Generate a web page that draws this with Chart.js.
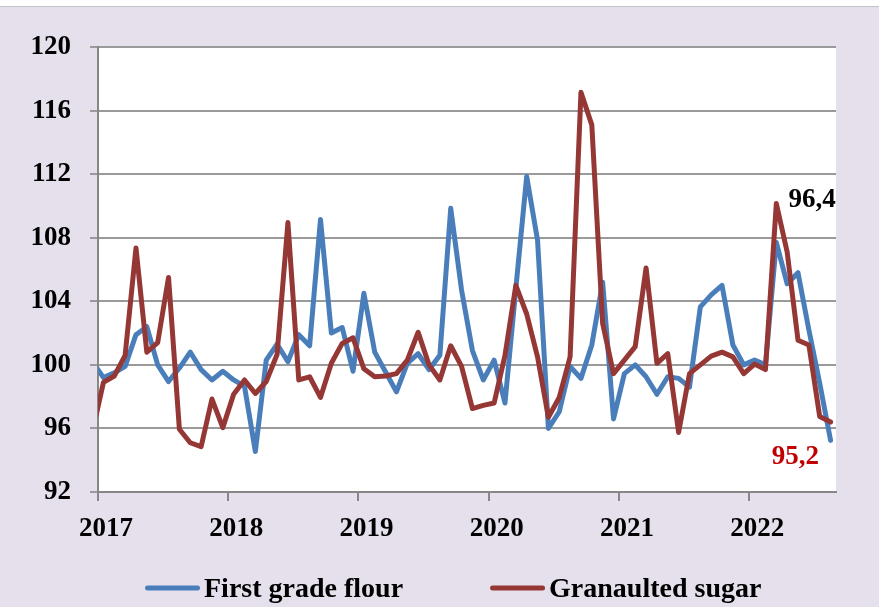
<!DOCTYPE html>
<html>
<head>
<meta charset="utf-8">
<script src="https://cdn.jsdelivr.net/npm/chart.js@4.4.0/dist/chart.umd.min.js"></script>
<style>
  html, body { margin: 0; padding: 0; background: #fff; }
  #wrap { position: relative; width: 879px; height: 607px; overflow: hidden; }
  #bg { position: absolute; left: 0; top: 6px; width: 879px; height: 601px; background: #e5e0ec; border-top: 1px solid #c4c4c4; }
  #ch { position: absolute; left: 0; top: 0; }
</style>
</head>
<body>
<div id="wrap"><div id="bg"></div><canvas id="ch" width="879" height="607"></canvas></div>
<script>
// ---- data (monthly, Dec 2016 .. Aug 2022; Dec 2016 only shows as the clipped first segment)
const yearTicks  = [0, 12, 24, 36, 48, 60];
const yearLabels = ['2017', '2018', '2019', '2020', '2021', '2022'];
const seriesNames = ['First grade flour', 'Granaulted sugar'];

const flour = [
  100.2,
  99.2, 99.5, 99.9, 101.9, 102.4, 100.0, 98.95, 99.8, 100.8, 99.7, 99.05, 99.6,
  99.05, 98.65, 94.55, 100.3, 101.3, 100.2, 101.9, 101.2, 109.15, 102.0, 102.35, 99.6,
  104.5, 100.8, 99.55, 98.3, 100.1, 100.7, 99.7, 100.6, 109.85, 104.7, 100.9, 99.05,
  100.3, 97.6, 104.8, 111.85, 107.85, 96.0, 97.05, 99.9, 99.15, 101.25, 105.2, 96.6,
  99.45, 100.0, 99.25, 98.15, 99.25, 99.15, 98.6, 103.65, 104.4, 105.0, 101.25, 100.0,
  100.3, 100.0, 107.7, 105.1, 105.8, 102.2, 98.85, 95.25
];
const sugar = [
  95.8,
  98.9, 99.3, 100.6, 107.35, 100.8, 101.4, 105.5, 95.95, 95.1, 94.85, 97.85, 96.05,
  98.15, 99.05, 98.2, 98.95, 100.65, 108.95, 99.05, 99.25, 97.95, 100.1, 101.35, 101.7,
  99.75, 99.25, 99.3, 99.45, 100.3, 102.05, 100.0, 99.05, 101.2, 99.9, 97.25, 97.45,
  97.6, 100.6, 105.0, 103.2, 100.5, 96.7, 97.95, 100.5, 117.15, 115.1, 102.6, 99.45,
  100.3, 101.15, 106.1, 100.1, 100.7, 95.75, 99.45, 100.0, 100.55, 100.8, 100.5, 99.45,
  100.05, 99.7, 110.15, 107.1, 101.55, 101.25, 96.75, 96.4
];
const endLabels = ['96,4', '95,2'];

// ---- style
const FONT = 'Liberation Serif';
const BLUE = '#4a7ebb';
const RED  = '#953735';
const GRID = '#9a9a9a';
const AXIS = '#878787';

const toPts = arr => arr.map((v, i) => ({ x: i - 0.5, y: v }));

// white plot area
const plotBg = {
  id: 'plotBg',
  beforeDraw(chart) {
    const { ctx, chartArea: a } = chart;
    ctx.save();
    ctx.fillStyle = '#fff';
    ctx.fillRect(a.left, a.top, a.right - a.left, a.bottom - a.top);
    ctx.restore();
  }
};

// the two value notes at the right end
const notes = {
  id: 'notes',
  afterDatasetsDraw(chart) {
    const { ctx, scales: { x, y } } = chart;
    ctx.save();
    ctx.font = `bold 27px "${FONT}"`;
    ctx.textAlign = 'center';
    ctx.textBaseline = 'middle';
    ctx.fillStyle = '#000';
    ctx.fillText(endLabels[0], x.getPixelForValue(65.8), y.getPixelForValue(110.4));
    ctx.fillStyle = '#c00000';
    ctx.fillText(endLabels[1], x.getPixelForValue(64.25), y.getPixelForValue(94.2));
    ctx.restore();
  }
};

// legend under the axis: short line + name
const legendLine = {
  id: 'legendLine',
  afterDraw(chart) {
    const ctx = chart.ctx;
    const yLine = 588;
    let xPos = 145;
    ctx.save();
    ctx.font = `bold 28px "${FONT}"`;
    ctx.textBaseline = 'alphabetic';
    chart.data.datasets.forEach(ds => {
      ctx.strokeStyle = ds.borderColor;
      ctx.lineWidth = 5;
      ctx.lineCap = 'round';
      ctx.beginPath();
      ctx.moveTo(xPos + 2.5, yLine);
      ctx.lineTo(xPos + 52.5, yLine);
      ctx.stroke();
      ctx.fillStyle = '#000';
      ctx.fillText(ds.label, xPos + 59, yLine + 9);
      xPos += 59 + ctx.measureText(ds.label).width + 87;
    });
    ctx.restore();
  }
};

new Chart(document.getElementById('ch'), {
  type: 'line',
  data: {
    datasets: [
      { label: seriesNames[0], data: toPts(flour), borderColor: BLUE, order: 2 },
      { label: seriesNames[1], data: toPts(sugar), borderColor: RED, order: 1 }
    ]
  },
  options: {
    responsive: false,
    animation: false,
    layout: { padding: { left: 0, right: 43, top: 47, bottom: 65 } },
    elements: {
      line: { borderWidth: 5, tension: 0, borderJoinStyle: 'round', borderCapStyle: 'round', fill: false },
      point: { radius: 0, hoverRadius: 0 }
    },
    datasets: { line: { clip: { left: 0, right: 8, top: 8, bottom: 8 } } },
    scales: {
      x: {
        type: 'linear', min: 0, max: 68,
        afterBuildTicks: s => { s.ticks = yearTicks.map(v => ({ value: v })); },
        afterFit: s => { s.height = 50; },
        ticks: {
          autoSkip: false, maxRotation: 0, padding: 12, labelOffset: 8,
          color: '#000', font: { family: FONT, size: 27, weight: 'bold' },
          callback: v => yearLabels[yearTicks.indexOf(v)]
        },
        grid: { drawOnChartArea: false, drawTicks: true, tickLength: 9, color: AXIS, lineWidth: 2 },
        border: { color: AXIS, width: 2 }
      },
      y: {
        min: 92, max: 120,
        afterFit: s => { s.width = 98; },
        ticks: { stepSize: 4, padding: 19, color: '#000', font: { family: FONT, size: 27, weight: 'bold' } },
        grid: { color: GRID, lineWidth: 2, tickLength: 8 },
        border: { color: AXIS, width: 2 }
      }
    },
    plugins: { legend: { display: false }, tooltip: { enabled: false } }
  },
  plugins: [plotBg, notes, legendLine]
});
</script>
</body>
</html>
